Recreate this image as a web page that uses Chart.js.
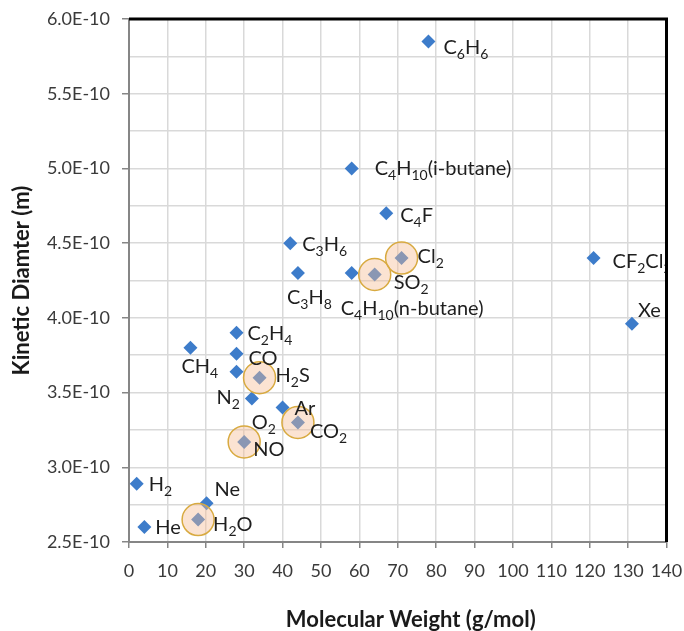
<!DOCTYPE html>
<html>
<head>
<meta charset="utf-8">
<script src="https://cdn.jsdelivr.net/npm/chart.js@4.4.1/dist/chart.umd.min.js"></script>
<style>
  html, body { margin: 0; padding: 0; background: #fff; }
  #wrap { width: 684px; height: 631px; }
</style>
</head>
<body>
<div id="wrap"><canvas id="chart" width="684" height="631"></canvas></div>
<script>
// gases
const gases = ['H2', 'He', 'CH4', 'H2O', 'Ne', 'C2H4', 'CO', 'N2', 'NO', 'O2', 'H2S', 'Ar', 'CO2',
  'C3H6', 'C3H8', 'C4H10(i-butane)', 'C4H10(n-butane)', 'SO2', 'C4F', 'Cl2', 'CF2Cl2', 'Xe', 'C6H6'];
const molWeight = [2, 4, 16, 18, 20.2, 28, 28, 28, 30, 32, 34, 40, 44,
  42, 44, 58, 58, 64, 67, 71, 121, 131, 78];
const kineticDiameter = [2.89e-10, 2.6e-10, 3.8e-10, 2.65e-10, 2.76e-10, 3.9e-10, 3.76e-10, 3.64e-10, 3.17e-10, 3.46e-10, 3.6e-10, 3.4e-10, 3.3e-10,
  4.5e-10, 4.3e-10, 5.0e-10, 4.3e-10, 4.29e-10, 4.7e-10, 4.4e-10, 4.4e-10, 3.96e-10, 5.85e-10];
// gases marked with a circle
const highlighted = ['H2O', 'NO', 'H2S', 'CO2', 'SO2', 'Cl2'];

const xTicks = [0, 10, 20, 30, 40, 50, 60, 70, 80, 90, 100, 110, 120, 130, 140];
const yTicks = [2.5e-10, 2.75e-10, 3.0e-10, 3.25e-10, 3.5e-10, 3.75e-10, 4.0e-10, 4.25e-10,
  4.5e-10, 4.75e-10, 5.0e-10, 5.25e-10, 5.5e-10, 5.75e-10, 6.0e-10];

const xTitle = 'Molecular Weight (g/mol)';
const yTitle = 'Kinetic Diamter (m)';

// where each label sits relative to its marker (px): left edge, cap centre
const labelOffsets = {
  'H2': [12, 0], 'He': [11, 0], 'CH4': [-9, 18], 'H2O': [15, 4], 'Ne': [8, -14],
  'C2H4': [11, 0], 'CO': [12, 4], 'N2': [-20, 25], 'NO': [9, 7], 'O2': [0, 23],
  'H2S': [16, -3], 'Ar': [12, 0], 'CO2': [12, 9], 'C3H6': [12, 1], 'C3H8': [-11, 24],
  'C4H10(i-butane)': [23, 0], 'C4H10(n-butane)': [-11, 35], 'SO2': [19, 7], 'C4F': [14, 2],
  'Cl2': [16, -2], 'CF2Cl2': [19, 3], 'Xe': [6, -14], 'C6H6': [15, 6]
};

const FONT = 'Lato, "Open Sans", sans-serif';
const isMajor = v => Math.round(v * 1e12) % 50 === 0;

const points = gases.map((g, i) => ({ x: molWeight[i], y: kineticDiameter[i], name: g }));
const circled = points.filter(p => highlighted.includes(p.name));

// formula with digits as subscripts
function drawFormula(ctx, text, x, y) {
  let cx = x;
  text.match(/\d+|\D+/g).forEach(part => {
    const sub = /^\d+$/.test(part);
    ctx.font = (sub ? '14px ' : '20px ') + FONT;
    ctx.fillText(part, cx, sub ? y + 5 : y);
    cx += ctx.measureText(part).width;
  });
}

const labelPlugin = {
  id: 'gasLabels',
  afterDatasetsDraw(chart) {
    const { ctx, chartArea } = chart;
    const meta = chart.getDatasetMeta(1);
    ctx.save();
    ctx.beginPath();
    ctx.rect(chartArea.left, chartArea.top, chartArea.right - chartArea.left, chartArea.bottom - chartArea.top);
    ctx.clip();
    ctx.fillStyle = '#1e1e1e';
    ctx.textBaseline = 'alphabetic';
    ctx.textAlign = 'left';
    meta.data.forEach((el, i) => {
      const name = points[i].name;
      const off = labelOffsets[name] || [10, 0];
      drawFormula(ctx, name, el.x + off[0], el.y + off[1] + 7);
    });
    ctx.restore();
  },
  afterDraw(chart) {
    const { ctx, chartArea } = chart;
    ctx.save();
    // heavy black frame on top and right, as in the original
    ctx.strokeStyle = '#000';
    ctx.lineWidth = 3;
    ctx.beginPath();
    ctx.moveTo(chartArea.left, chartArea.top);
    ctx.lineTo(chartArea.right, chartArea.top);
    ctx.lineTo(chartArea.right, chartArea.bottom);
    ctx.stroke();
    // x title sits a little right of the plot centre in the original
    ctx.fillStyle = '#1a1a1a';
    ctx.font = 'bold 22px ' + FONT;
    ctx.textAlign = 'center';
    ctx.textBaseline = 'middle';
    ctx.fillText(xTitle, (chartArea.left + chartArea.right) / 2 + 13, 620);
    ctx.restore();
  }
};

function start() {
  new Chart(document.getElementById('chart'), {
    type: 'scatter',
    data: {
      datasets: [{
        label: 'highlight',
        data: circled,
        order: 0,
        pointStyle: 'circle',
        pointRadius: 16,
        backgroundColor: 'rgba(245, 188, 148, 0.42)',
        borderColor: '#d8aa40',
        borderWidth: 1.5
      }, {
        label: 'gases',
        data: points,
        order: 1,
        pointStyle: 'rectRot',
        pointRadius: 7,
        backgroundColor: '#3d7cca',
        borderColor: '#3d7cca',
        borderWidth: 0
      }]
    },
    options: {
      responsive: false,
      animation: false,
      events: [],
      layout: { padding: { top: 19, right: 17, left: 0, bottom: 0 } },
      plugins: { legend: { display: false }, tooltip: { enabled: false } },
      scales: {
        x: {
          type: 'linear',
          min: 0,
          max: 140,
          afterBuildTicks: s => { s.ticks = xTicks.map(v => ({ value: v })); },
          afterFit: s => { s.height = 89; s.paddingLeft = 0; s.paddingRight = 0; },
          ticks: { font: { family: FONT, size: 18 }, color: '#3a3a3a', padding: 12, maxRotation: 0 },
          grid: { color: '#d9d9d9', lineWidth: 1.5, tickLength: 6, tickColor: '#868686', tickWidth: 1.5 },
          border: { color: '#868686', width: 2 },
          title: { display: false }
        },
        y: {
          type: 'linear',
          min: 2.5e-10,
          max: 6.0e-10,
          afterBuildTicks: s => { s.ticks = yTicks.map(v => ({ value: v })); },
          afterFit: s => { s.width = 129; s.paddingTop = 0; s.paddingBottom = 0; },
          ticks: {
            font: { family: FONT, size: 18 },
            color: '#3a3a3a',
            padding: 12,
            callback: v => isMajor(v) ? v.toExponential(1).toUpperCase() : ''
          },
          grid: {
            color: '#d9d9d9',
            lineWidth: 1.5,
            tickLength: 7,
            tickWidth: 1.5,
            tickColor: c => (c.tick && isMajor(c.tick.value)) ? '#868686' : 'rgba(0,0,0,0)'
          },
          border: { color: '#868686', width: 2 },
          title: {
            display: true,
            text: yTitle,
            font: { family: FONT, size: 22, weight: 'bold' },
            color: '#1a1a1a',
            padding: { top: 9, bottom: 0 }
          }
        }
      }
    },
    plugins: [labelPlugin]
  });
}

if (document.fonts && document.fonts.load) {
  Promise.all([document.fonts.load('20px Lato'), document.fonts.load('bold 22px Lato')]).then(start, start);
} else {
  start();
}
</script>
</body>
</html>
